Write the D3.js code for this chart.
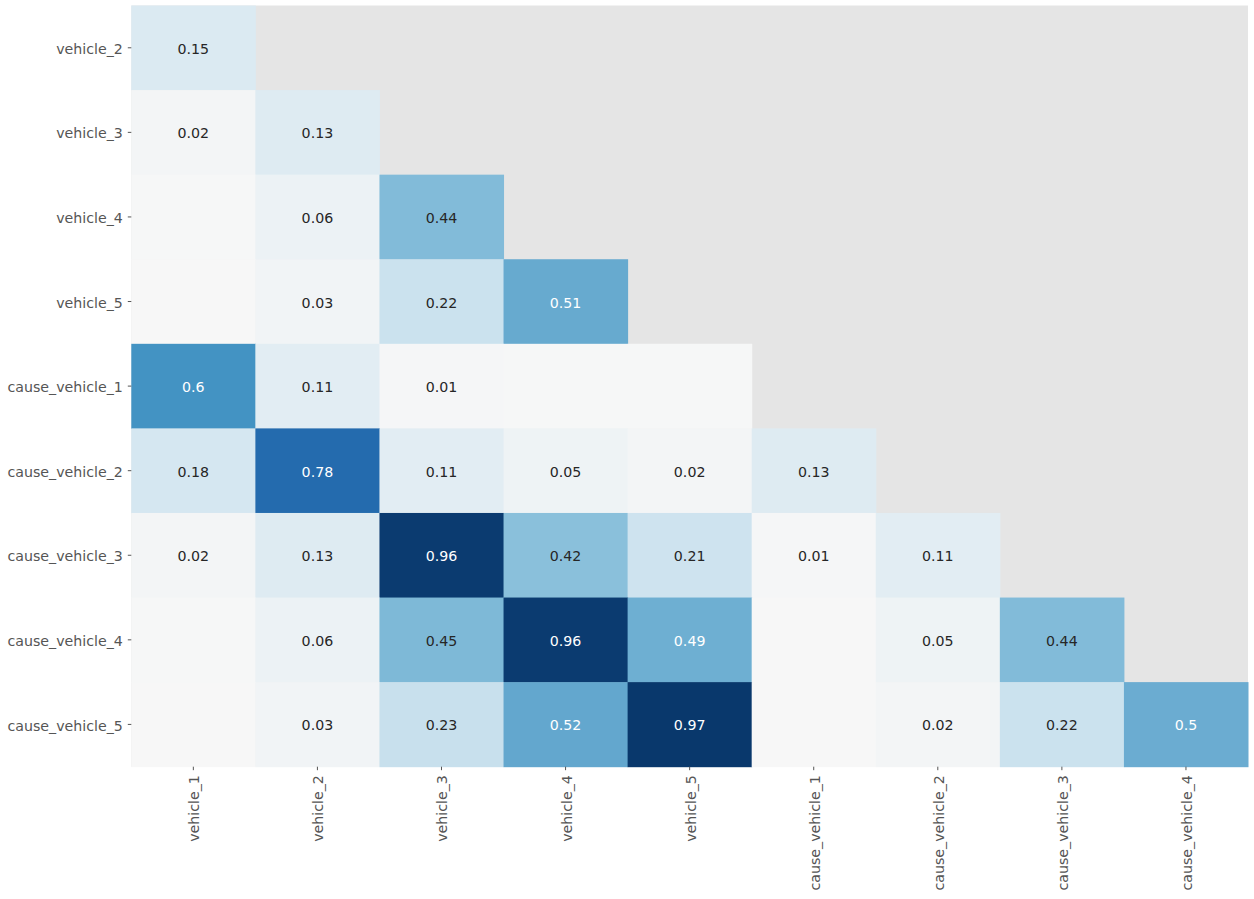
<!DOCTYPE html>
<html><head><meta charset="utf-8">
<script src="https://cdn.jsdelivr.net/npm/d3@7"></script>
<style>html,body{margin:0;padding:0;background:#fff;}</style>
</head><body>
<svg id="chart" width="1254" height="899"></svg>
<script>
const rowLabels = ["vehicle_2","vehicle_3","vehicle_4","vehicle_5","cause_vehicle_1","cause_vehicle_2","cause_vehicle_3","cause_vehicle_4","cause_vehicle_5"];
const colLabels = ["vehicle_1","vehicle_2","vehicle_3","vehicle_4","vehicle_5","cause_vehicle_1","cause_vehicle_2","cause_vehicle_3","cause_vehicle_4"];
// lower-triangular nullity correlations (row i has i+1 values)
const values = [
  [0.15],
  [0.02, 0.13],
  [0.0045, 0.06, 0.44],
  [0.002, 0.03, 0.22, 0.51],
  [0.60, 0.11, 0.01, 0.003, 0.003],
  [0.18, 0.78, 0.11, 0.05, 0.02, 0.13],
  [0.02, 0.13, 0.96, 0.42, 0.21, 0.01, 0.11],
  [0.0045, 0.06, 0.45, 0.96, 0.49, 0.002, 0.05, 0.44],
  [0.002, 0.03, 0.23, 0.52, 0.97, 0.002, 0.02, 0.22, 0.50]
];
const rdbu = ["#67001f","#b2182b","#d6604d","#f4a582","#fddbc7","#f7f7f7","#d1e5f0","#92c5de","#4393c3","#2166ac","#053061"];

const svg = d3.select("#chart");
const pL = 131.3, pR = 1248, pT = 5.5, pB = 766.7;
const x = d3.scaleBand().domain(colLabels).range([pL, pR]);
const y = d3.scaleBand().domain(rowLabels).range([pT, pB]);
const color = d3.scaleLinear()
  .domain(d3.range(11).map(i => -1 + i * 0.2))
  .range(rdbu).interpolate(d3.interpolateRgb).clamp(true);

function lum(c) {
  const r = d3.rgb(c);
  const f = v => { v /= 255; return v <= 0.03928 ? v / 12.92 : Math.pow((v + 0.055) / 1.055, 2.4); };
  return 0.2126 * f(r.r) + 0.7152 * f(r.g) + 0.0722 * f(r.b);
}

// axes background
svg.append("rect").attr("x", pL).attr("y", pT)
  .attr("width", pR - pL).attr("height", pB - pT).attr("fill", "#e5e5e5");

const cells = [];
values.forEach((row, i) => row.forEach((v, j) => cells.push({r: rowLabels[i], c: colLabels[j], v})));

svg.append("g").selectAll("rect").data(cells).join("rect")
  .attr("x", d => x(d.c)).attr("y", d => y(d.r))
  .attr("width", x.bandwidth() + 0.5).attr("height", y.bandwidth() + 0.5)
  .attr("fill", d => color(d.v));

svg.append("g").selectAll("text").data(cells.filter(d => Math.abs(d.v) >= 0.005)).join("text")
  .attr("x", d => x(d.c) + x.bandwidth() / 2)
  .attr("y", d => y(d.r) + y.bandwidth() / 2 + 1)
  .attr("text-anchor", "middle").attr("dominant-baseline", "central")
  .attr("font-family", "DejaVu Sans").attr("font-size", 14.2)
  .attr("fill", d => lum(color(d.v)) > 0.408 ? "#262626" : "#ffffff")
  .text(d => String(Number(d.v.toFixed(2))));

// y axis
const yAxis = svg.append("g").attr("transform", `translate(${pL},0)`)
  .call(d3.axisLeft(y).tickSize(3.5).tickPadding(5));
yAxis.select(".domain").remove();
yAxis.selectAll(".tick line").attr("stroke", "#555555");
yAxis.selectAll(".tick text").attr("font-family", "DejaVu Sans").attr("font-size", 14.2)
  .attr("fill", "#555555").attr("dy", "0.36em").attr("y", 1);

// x axis
const xAxis = svg.append("g").attr("transform", `translate(0,${pB})`)
  .call(d3.axisBottom(x).tickSize(3.5).tickPadding(5));
xAxis.select(".domain").remove();
xAxis.selectAll(".tick line").attr("stroke", "#555555");
xAxis.selectAll(".tick text")
  .attr("font-family", "DejaVu Sans").attr("font-size", 14.2).attr("fill", "#555555")
  .attr("transform", "rotate(-90)")
  .attr("text-anchor", "end").attr("dominant-baseline", "central")
  .attr("x", -8.5).attr("y", 1).attr("dy", 0);
</script>
</body></html>
